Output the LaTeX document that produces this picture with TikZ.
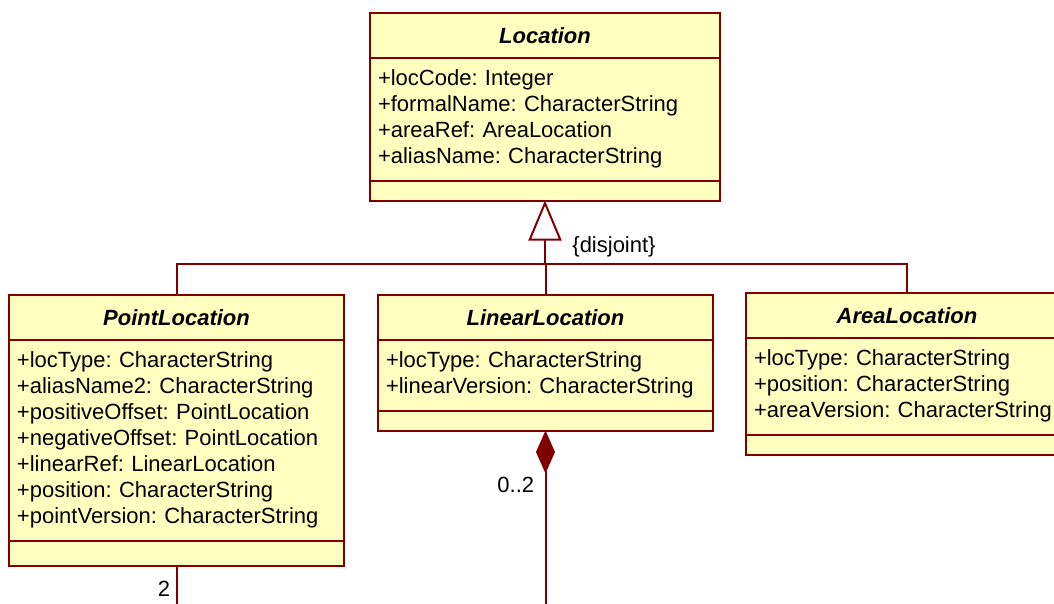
\documentclass[tikz,border=0pt]{standalone}
\usepackage{fontspec}
\setmainfont{Liberation Sans}
\usetikzlibrary{positioning,calc,arrows.meta}
\definecolor{umlred}{RGB}{128,0,0}
\definecolor{umlfill}{RGB}{255,255,192}
\frenchspacing
\tikzset{
	umlbox/.style={draw=umlred,fill=umlfill,line width=1pt,outer sep=0pt,rectangle},
	umltitle/.style={umlbox,minimum height=22.5pt,font=\fontsize{11}{13}\selectfont\bfseries\itshape},
	umlattr/.style={umlbox,align=left,inner xsep=4pt,inner ysep=6pt,font=\fontsize{11}{13}\selectfont},
	umlops/.style={umlbox,minimum height=10pt},
	umlline/.style={draw=umlred,line width=1pt},
	umltag/.style={font=\fontsize{11}{13}\selectfont,inner sep=0pt}
}
\begin{document}
\begin{tikzpicture}
	\useasboundingbox (0,0) rectangle (527pt,-302pt);
	% lop cha
	\node[umltitle,minimum width=175pt,anchor=north] (loctitle) at (272.5pt,-6.5pt) {Location};
	\node[umlattr,text width=167pt,below=0pt of loctitle] (locattr) {+locCode: Integer\\+formalName: CharacterString\\+areaRef: AreaLocation\\+aliasName: CharacterString};
	\node[umlops,minimum width=175pt,below=0pt of locattr] (locops) {};
	% cac lop con
	\node[umltitle,minimum width=167.5pt,anchor=north west] (pttitle) at (4.5pt,-147.5pt) {PointLocation};
	\node[umlattr,text width=159.5pt,below=0pt of pttitle] (ptattr) {+locType: CharacterString\\+aliasName2: CharacterString\\+positiveOffset: PointLocation\\+negativeOffset: PointLocation\\+linearRef: LinearLocation\\+position: CharacterString\\+pointVersion: CharacterString};
	\node[umlops,minimum width=167.5pt,minimum height=12.5pt,below=0pt of ptattr] (ptops) {};
	\node[umltitle,minimum width=167.5pt,anchor=north west] (lintitle) at (189pt,-147.5pt) {LinearLocation};
	\node[umlattr,text width=159.5pt,below=0pt of lintitle] (linattr) {+locType: CharacterString\\+linearVersion: CharacterString};
	\node[umlops,minimum width=167.5pt,below=0pt of linattr] (linops) {};
	\node[umltitle,minimum width=161pt,anchor=north west] (artitle) at (373pt,-146.5pt) {AreaLocation};
	\node[umlattr,text width=153pt,below=0pt of artitle] (arattr) {+locType: CharacterString\\+position: CharacterString\\+areaVersion: CharacterString};
	\node[umlops,minimum width=161pt,below=0pt of arattr] (arops) {};
	% ke thua
	\coordinate[below=31.5pt of locops.south] (bus);
	\draw[umlline] (pttitle.north) |- (bus) -| (artitle.north);
	\draw[umlline] (lintitle.north) |- (bus);
	\draw[umlline,-{Triangle[open,length=20pt,width=16.5pt]}] (bus) -- (locops.south);
	\node[umltag,anchor=west] (disj) at ($(locops.south)+(13.5pt,-23pt)$) {\{disjoint\}};
	% hop thanh
	\coordinate (ptend) at (ptops.south |- 0,-302pt);
	\coordinate (linend) at (linops.south |- 0,-302pt);
	\draw[umlline] (ptops.south) -- (ptend);
	\draw[umlline,{Diamond[length=21.5pt,width=9.5pt]}-] (linops.south) -- (linend);
	\node[umltag,anchor=east] (ptmult) at ($(ptops.south)+(-3pt,-11.5pt)$) {2};
	\node[umltag,anchor=east] (linmult) at ($(linops.south)+(-5.5pt,-27pt)$) {0..2};
\end{tikzpicture}
\end{document}
